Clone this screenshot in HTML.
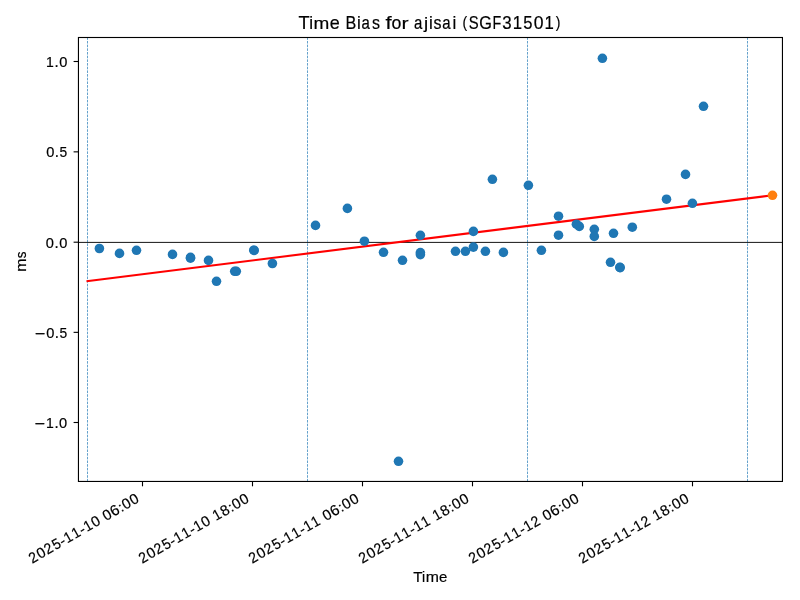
<!DOCTYPE html><html><head><meta charset="utf-8"><title>Time Bias for ajisai (SGF31501)</title><style>html,body{margin:0;padding:0;background:#fff;overflow:hidden;}svg{display:block;will-change:transform;}text{font-family:"Liberation Sans",sans-serif;fill:#000;stroke:#000;stroke-width:0.18px;}</style></head><body>
<svg width="800" height="600" viewBox="0 0 800 600">
<rect x="0" y="0" width="800" height="600" fill="#fff"/>
<defs><clipPath id="ax"><rect x="78.45" y="37.5" width="704.00" height="443.95"/></clipPath></defs>
<g clip-path="url(#ax)">
<line x1="87.5" y1="481.45" x2="87.5" y2="37.5" stroke="#1f77b4" stroke-width="0.69" stroke-dasharray="2.57 1.11"/>
<line x1="307.5" y1="481.45" x2="307.5" y2="37.5" stroke="#1f77b4" stroke-width="0.69" stroke-dasharray="2.57 1.11"/>
<line x1="527.5" y1="481.45" x2="527.5" y2="37.5" stroke="#1f77b4" stroke-width="0.69" stroke-dasharray="2.57 1.11"/>
<line x1="747.5" y1="481.45" x2="747.5" y2="37.5" stroke="#1f77b4" stroke-width="0.69" stroke-dasharray="2.57 1.11"/>
<line x1="78.45" y1="242.4" x2="782.45" y2="242.4" stroke="#000" stroke-width="0.92"/>
<line x1="86.5" y1="281.2" x2="772.5" y2="195.3" stroke="#ff0000" stroke-width="2.08"/>
<circle cx="99.4" cy="248.5" r="4.8" fill="#1f77b4"/>
<circle cx="119.5" cy="253.4" r="4.8" fill="#1f77b4"/>
<circle cx="136.5" cy="250.3" r="4.8" fill="#1f77b4"/>
<circle cx="172.5" cy="254.4" r="4.8" fill="#1f77b4"/>
<circle cx="190.5" cy="257.4" r="4.8" fill="#1f77b4"/>
<circle cx="190.5" cy="258.2" r="4.8" fill="#1f77b4"/>
<circle cx="208.5" cy="260.4" r="4.8" fill="#1f77b4"/>
<circle cx="216.5" cy="281.3" r="4.8" fill="#1f77b4"/>
<circle cx="234.7" cy="271.3" r="4.8" fill="#1f77b4"/>
<circle cx="236.3" cy="271.3" r="4.8" fill="#1f77b4"/>
<circle cx="253.8" cy="250.2" r="4.8" fill="#1f77b4"/>
<circle cx="254.2" cy="250.4" r="4.8" fill="#1f77b4"/>
<circle cx="272.4" cy="263.5" r="4.8" fill="#1f77b4"/>
<circle cx="315.5" cy="225.4" r="4.8" fill="#1f77b4"/>
<circle cx="347.4" cy="208.4" r="4.8" fill="#1f77b4"/>
<circle cx="364.4" cy="241.2" r="4.8" fill="#1f77b4"/>
<circle cx="383.5" cy="252.3" r="4.8" fill="#1f77b4"/>
<circle cx="402.5" cy="260.3" r="4.8" fill="#1f77b4"/>
<circle cx="420.4" cy="235.3" r="4.8" fill="#1f77b4"/>
<circle cx="420.4" cy="252.6" r="4.8" fill="#1f77b4"/>
<circle cx="420.4" cy="254.6" r="4.8" fill="#1f77b4"/>
<circle cx="398.5" cy="461.3" r="4.8" fill="#1f77b4"/>
<circle cx="455.5" cy="251.3" r="4.8" fill="#1f77b4"/>
<circle cx="465.4" cy="251.3" r="4.8" fill="#1f77b4"/>
<circle cx="473.4" cy="247.1" r="4.8" fill="#1f77b4"/>
<circle cx="473.4" cy="231.4" r="4.8" fill="#1f77b4"/>
<circle cx="485.4" cy="251.3" r="4.8" fill="#1f77b4"/>
<circle cx="503.4" cy="252.4" r="4.8" fill="#1f77b4"/>
<circle cx="492.4" cy="179.3" r="4.8" fill="#1f77b4"/>
<circle cx="528.4" cy="185.3" r="4.8" fill="#1f77b4"/>
<circle cx="541.4" cy="250.3" r="4.8" fill="#1f77b4"/>
<circle cx="558.5" cy="216.2" r="4.8" fill="#1f77b4"/>
<circle cx="558.5" cy="235.2" r="4.8" fill="#1f77b4"/>
<circle cx="576.4" cy="224.2" r="4.8" fill="#1f77b4"/>
<circle cx="579.3" cy="226.4" r="4.8" fill="#1f77b4"/>
<circle cx="594.3" cy="229.3" r="4.8" fill="#1f77b4"/>
<circle cx="594.3" cy="236.4" r="4.8" fill="#1f77b4"/>
<circle cx="613.5" cy="233.3" r="4.8" fill="#1f77b4"/>
<circle cx="632.3" cy="227.2" r="4.8" fill="#1f77b4"/>
<circle cx="610.5" cy="262.3" r="4.8" fill="#1f77b4"/>
<circle cx="619.8" cy="267.4" r="4.8" fill="#1f77b4"/>
<circle cx="620.2" cy="267.6" r="4.8" fill="#1f77b4"/>
<circle cx="602.4" cy="58.3" r="4.8" fill="#1f77b4"/>
<circle cx="703.5" cy="106.3" r="4.8" fill="#1f77b4"/>
<circle cx="666.5" cy="199.2" r="4.8" fill="#1f77b4"/>
<circle cx="685.5" cy="174.4" r="4.8" fill="#1f77b4"/>
<circle cx="692.4" cy="203.3" r="4.8" fill="#1f77b4"/>
<circle cx="772.5" cy="195.3" r="4.8" fill="#ff7f0e"/>
</g>
<rect x="78.45" y="37.5" width="704.00" height="443.95" fill="none" stroke="#000" stroke-width="1.11"/>
<line x1="73.59" y1="61.5" x2="78.45" y2="61.5" stroke="#000" stroke-width="1.11"/>
<g transform="translate(45.53,67.00)" font-size="13.89"><text transform="matrix(1.0068 0 0 1.0596 0.461 0.000)">1</text><text transform="matrix(1.0821 0 0 1.1598 8.950 0.000)">.</text><text transform="matrix(1.0541 0 0 1.0683 13.596 0.052)">0</text></g>
<line x1="73.59" y1="151.85" x2="78.45" y2="151.85" stroke="#000" stroke-width="1.11"/>
<g transform="translate(45.82,157.35)" font-size="13.89"><text transform="matrix(1.0541 0 0 1.0683 0.344 0.052)">0</text><text transform="matrix(1.0821 0 0 1.1598 8.950 0.000)">.</text><text transform="matrix(0.9949 0 0 1.0651 13.771 0.052)">5</text></g>
<line x1="73.59" y1="242.2" x2="78.45" y2="242.2" stroke="#000" stroke-width="1.11"/>
<g transform="translate(45.53,247.70)" font-size="13.89"><text transform="matrix(1.0541 0 0 1.0683 0.344 0.052)">0</text><text transform="matrix(1.0821 0 0 1.1598 8.950 0.000)">.</text><text transform="matrix(1.0541 0 0 1.0683 13.596 0.052)">0</text></g>
<line x1="73.59" y1="332.35" x2="78.45" y2="332.35" stroke="#000" stroke-width="1.11"/>
<g transform="translate(34.19,337.85)" font-size="13.89"><text transform="matrix(1.2884 0 0 1.1644 0.589 1.024)">−</text><text transform="matrix(1.0541 0 0 1.0683 11.982 0.052)">0</text><text transform="matrix(1.0821 0 0 1.1598 20.589 0.000)">.</text><text transform="matrix(0.9949 0 0 1.0651 25.409 0.052)">5</text></g>
<line x1="73.59" y1="422.5" x2="78.45" y2="422.5" stroke="#000" stroke-width="1.11"/>
<g transform="translate(33.89,428.00)" font-size="13.89"><text transform="matrix(1.2884 0 0 1.1644 0.589 1.024)">−</text><text transform="matrix(1.0068 0 0 1.0596 12.099 0.000)">1</text><text transform="matrix(1.0821 0 0 1.1598 20.589 0.000)">.</text><text transform="matrix(1.0541 0 0 1.0683 25.234 0.052)">0</text></g>
<line x1="142.5" y1="481.45" x2="142.5" y2="486.31" stroke="#000" stroke-width="1.11"/>
<g transform="translate(31.96,563.83) rotate(-30)" font-size="13.89"><text transform="matrix(1.0161 0 0 1.0629 0.308 0.000)">2</text><text transform="matrix(1.0541 0 0 1.0683 9.181 0.052)">0</text><text transform="matrix(1.0161 0 0 1.0629 17.982 0.000)">2</text><text transform="matrix(0.9949 0 0 1.0651 27.030 0.052)">5</text><text transform="matrix(1.0780 0 0 1.0250 35.362 -0.023)">-</text><text transform="matrix(1.0068 0 0 1.0596 40.822 0.000)">1</text><text transform="matrix(1.0068 0 0 1.0596 49.659 0.000)">1</text><text transform="matrix(1.0780 0 0 1.0250 58.048 -0.023)">-</text><text transform="matrix(1.0068 0 0 1.0596 63.508 0.000)">1</text><text transform="matrix(1.0541 0 0 1.0683 72.228 0.052)">0</text><text transform="matrix(1.0541 0 0 1.0683 85.481 0.052)">0</text><text transform="matrix(1.0910 0 0 1.0683 94.175 0.052)">6</text><text transform="matrix(1.0821 0 0 0.9787 103.067 0.000)">:</text><text transform="matrix(1.0541 0 0 1.0683 107.835 0.052)">0</text><text transform="matrix(1.0541 0 0 1.0683 116.672 0.052)">0</text></g>
<line x1="252.5" y1="481.45" x2="252.5" y2="486.31" stroke="#000" stroke-width="1.11"/>
<g transform="translate(141.96,563.83) rotate(-30)" font-size="13.89"><text transform="matrix(1.0161 0 0 1.0629 0.308 0.000)">2</text><text transform="matrix(1.0541 0 0 1.0683 9.181 0.052)">0</text><text transform="matrix(1.0161 0 0 1.0629 17.982 0.000)">2</text><text transform="matrix(0.9949 0 0 1.0651 27.030 0.052)">5</text><text transform="matrix(1.0780 0 0 1.0250 35.362 -0.023)">-</text><text transform="matrix(1.0068 0 0 1.0596 40.822 0.000)">1</text><text transform="matrix(1.0068 0 0 1.0596 49.659 0.000)">1</text><text transform="matrix(1.0780 0 0 1.0250 58.048 -0.023)">-</text><text transform="matrix(1.0068 0 0 1.0596 63.508 0.000)">1</text><text transform="matrix(1.0541 0 0 1.0683 72.228 0.052)">0</text><text transform="matrix(1.0068 0 0 1.0596 85.598 0.000)">1</text><text transform="matrix(1.0656 0 0 1.0683 94.274 0.052)">8</text><text transform="matrix(1.0821 0 0 0.9787 103.067 0.000)">:</text><text transform="matrix(1.0541 0 0 1.0683 107.835 0.052)">0</text><text transform="matrix(1.0541 0 0 1.0683 116.672 0.052)">0</text></g>
<line x1="362.5" y1="481.45" x2="362.5" y2="486.31" stroke="#000" stroke-width="1.11"/>
<g transform="translate(251.96,563.83) rotate(-30)" font-size="13.89"><text transform="matrix(1.0161 0 0 1.0629 0.308 0.000)">2</text><text transform="matrix(1.0541 0 0 1.0683 9.181 0.052)">0</text><text transform="matrix(1.0161 0 0 1.0629 17.982 0.000)">2</text><text transform="matrix(0.9949 0 0 1.0651 27.030 0.052)">5</text><text transform="matrix(1.0780 0 0 1.0250 35.362 -0.023)">-</text><text transform="matrix(1.0068 0 0 1.0596 40.822 0.000)">1</text><text transform="matrix(1.0068 0 0 1.0596 49.659 0.000)">1</text><text transform="matrix(1.0780 0 0 1.0250 58.048 -0.023)">-</text><text transform="matrix(1.0068 0 0 1.0596 63.508 0.000)">1</text><text transform="matrix(1.0068 0 0 1.0596 72.346 0.000)">1</text><text transform="matrix(1.0541 0 0 1.0683 85.481 0.052)">0</text><text transform="matrix(1.0910 0 0 1.0683 94.175 0.052)">6</text><text transform="matrix(1.0821 0 0 0.9787 103.067 0.000)">:</text><text transform="matrix(1.0541 0 0 1.0683 107.835 0.052)">0</text><text transform="matrix(1.0541 0 0 1.0683 116.672 0.052)">0</text></g>
<line x1="472.5" y1="481.45" x2="472.5" y2="486.31" stroke="#000" stroke-width="1.11"/>
<g transform="translate(361.96,563.83) rotate(-30)" font-size="13.89"><text transform="matrix(1.0161 0 0 1.0629 0.308 0.000)">2</text><text transform="matrix(1.0541 0 0 1.0683 9.181 0.052)">0</text><text transform="matrix(1.0161 0 0 1.0629 17.982 0.000)">2</text><text transform="matrix(0.9949 0 0 1.0651 27.030 0.052)">5</text><text transform="matrix(1.0780 0 0 1.0250 35.362 -0.023)">-</text><text transform="matrix(1.0068 0 0 1.0596 40.822 0.000)">1</text><text transform="matrix(1.0068 0 0 1.0596 49.659 0.000)">1</text><text transform="matrix(1.0780 0 0 1.0250 58.048 -0.023)">-</text><text transform="matrix(1.0068 0 0 1.0596 63.508 0.000)">1</text><text transform="matrix(1.0068 0 0 1.0596 72.346 0.000)">1</text><text transform="matrix(1.0068 0 0 1.0596 85.598 0.000)">1</text><text transform="matrix(1.0656 0 0 1.0683 94.274 0.052)">8</text><text transform="matrix(1.0821 0 0 0.9787 103.067 0.000)">:</text><text transform="matrix(1.0541 0 0 1.0683 107.835 0.052)">0</text><text transform="matrix(1.0541 0 0 1.0683 116.672 0.052)">0</text></g>
<line x1="582.5" y1="481.45" x2="582.5" y2="486.31" stroke="#000" stroke-width="1.11"/>
<g transform="translate(471.96,563.83) rotate(-30)" font-size="13.89"><text transform="matrix(1.0161 0 0 1.0629 0.308 0.000)">2</text><text transform="matrix(1.0541 0 0 1.0683 9.181 0.052)">0</text><text transform="matrix(1.0161 0 0 1.0629 17.982 0.000)">2</text><text transform="matrix(0.9949 0 0 1.0651 27.030 0.052)">5</text><text transform="matrix(1.0780 0 0 1.0250 35.362 -0.023)">-</text><text transform="matrix(1.0068 0 0 1.0596 40.822 0.000)">1</text><text transform="matrix(1.0068 0 0 1.0596 49.659 0.000)">1</text><text transform="matrix(1.0780 0 0 1.0250 58.048 -0.023)">-</text><text transform="matrix(1.0068 0 0 1.0596 63.508 0.000)">1</text><text transform="matrix(1.0161 0 0 1.0629 72.192 0.000)">2</text><text transform="matrix(1.0541 0 0 1.0683 85.481 0.052)">0</text><text transform="matrix(1.0910 0 0 1.0683 94.175 0.052)">6</text><text transform="matrix(1.0821 0 0 0.9787 103.067 0.000)">:</text><text transform="matrix(1.0541 0 0 1.0683 107.835 0.052)">0</text><text transform="matrix(1.0541 0 0 1.0683 116.672 0.052)">0</text></g>
<line x1="692.5" y1="481.45" x2="692.5" y2="486.31" stroke="#000" stroke-width="1.11"/>
<g transform="translate(581.96,563.83) rotate(-30)" font-size="13.89"><text transform="matrix(1.0161 0 0 1.0629 0.308 0.000)">2</text><text transform="matrix(1.0541 0 0 1.0683 9.181 0.052)">0</text><text transform="matrix(1.0161 0 0 1.0629 17.982 0.000)">2</text><text transform="matrix(0.9949 0 0 1.0651 27.030 0.052)">5</text><text transform="matrix(1.0780 0 0 1.0250 35.362 -0.023)">-</text><text transform="matrix(1.0068 0 0 1.0596 40.822 0.000)">1</text><text transform="matrix(1.0068 0 0 1.0596 49.659 0.000)">1</text><text transform="matrix(1.0780 0 0 1.0250 58.048 -0.023)">-</text><text transform="matrix(1.0068 0 0 1.0596 63.508 0.000)">1</text><text transform="matrix(1.0161 0 0 1.0629 72.192 0.000)">2</text><text transform="matrix(1.0068 0 0 1.0596 85.598 0.000)">1</text><text transform="matrix(1.0656 0 0 1.0683 94.274 0.052)">8</text><text transform="matrix(1.0821 0 0 0.9787 103.067 0.000)">:</text><text transform="matrix(1.0541 0 0 1.0683 107.835 0.052)">0</text><text transform="matrix(1.0541 0 0 1.0683 116.672 0.052)">0</text></g>
<g transform="translate(299.05,28.9)" font-size="16.67"><text transform="matrix(1.0907 0 0 1.0596 -0.457 0.000)">T</text><text transform="matrix(1.0222 0 0 1.0485 10.101 -0.000)">i</text><text transform="matrix(1.1394 0 0 1.0408 14.554 0.000)">m</text><text transform="matrix(1.0801 0 0 1.0481 30.695 0.065)">e</text><text transform="matrix(0.9716 0 0 1.0596 46.402 0.000)">B</text><text transform="matrix(1.0222 0 0 1.0485 57.962 -0.000)">i</text><text transform="matrix(0.8992 0 0 1.0481 62.527 0.065)">a</text><text transform="matrix(0.9586 0 0 1.0509 72.837 0.065)">s</text><text transform="matrix(1.3131 0 0 1.0499 86.434 0.000)">f</text><text transform="matrix(1.0631 0 0 1.0481 92.406 0.065)">o</text><text transform="matrix(1.2812 0 0 1.0408 102.525 0.000)">r</text><text transform="matrix(0.8992 0 0 1.0481 114.946 0.065)">a</text><text transform="matrix(1.1281 0 0 1.0382 124.955 -0.124)">j</text><text transform="matrix(1.0222 0 0 1.0485 129.860 -0.000)">i</text><text transform="matrix(0.9586 0 0 1.0509 134.519 0.065)">s</text><text transform="matrix(0.8992 0 0 1.0481 143.109 0.065)">a</text><text transform="matrix(1.0222 0 0 1.0485 153.391 -0.000)">i</text><text transform="matrix(0.8453 0 0 0.9560 163.449 -1.102)">(</text><text transform="matrix(0.8914 0 0 1.0683 169.818 0.062)">S</text><text transform="matrix(0.9753 0 0 1.0683 180.094 0.062)">G</text><text transform="matrix(0.8571 0 0 1.0596 193.357 0.000)">F</text><text transform="matrix(1.0124 0 0 1.0683 203.109 0.062)">3</text><text transform="matrix(1.0068 0 0 1.0596 213.641 0.000)">1</text><text transform="matrix(0.9949 0 0 1.0651 224.316 0.063)">5</text><text transform="matrix(1.0541 0 0 1.0683 234.712 0.062)">0</text><text transform="matrix(1.0068 0 0 1.0596 245.459 0.000)">1</text><text transform="matrix(0.8453 0 0 0.9560 256.764 -1.102)">)</text></g>
<g transform="translate(413.54,581.9)" font-size="13.89"><text transform="matrix(1.0907 0 0 1.0596 -0.381 0.000)">T</text><text transform="matrix(1.0222 0 0 1.0485 8.416 0.000)">i</text><text transform="matrix(1.1394 0 0 1.0408 12.127 0.000)">m</text><text transform="matrix(1.0801 0 0 1.0481 25.576 0.055)">e</text></g>
<g transform="translate(26.2,272.06) rotate(-90)" font-size="13.89"><text transform="matrix(1.1394 0 0 1.0408 0.211 0.000)">m</text><text transform="matrix(0.9586 0 0 1.0509 13.913 0.054)">s</text></g>
</svg></body></html>
